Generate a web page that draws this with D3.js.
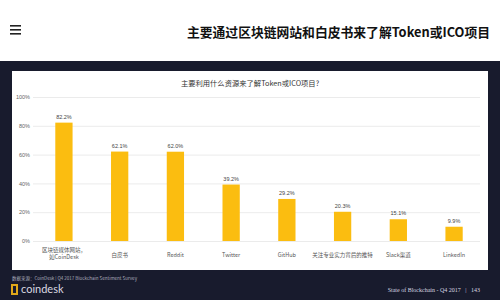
<!DOCTYPE html>
<html>
<head>
<meta charset="utf-8">
<script src="https://cdn.jsdelivr.net/npm/d3@7"></script>
<style>
  body { margin: 0; background: #fff; }
  svg { display: block; font-family: "Noto Sans CJK SC", "Noto Sans", sans-serif; }
</style>
</head>
<body>
<div id="chart"></div>
<script>
// data
const categories = ["区块链媒体网站，\n如CoinDesk", "白皮书", "Reddit", "Twitter", "GitHub",
                    "关注专业实力背后的推特", "Slack渠道", "LinkedIn"];
const values = [82.2, 62.1, 62.0, 39.2, 29.2, 20.3, 15.1, 9.9];
const yTicks = [0, 20, 40, 60, 80, 100];

const pageTitle = "主要通过区块链网站和白皮书来了解Token或ICO项目";
const chartTitle = "主要利用什么资源来了解Token或ICO项目?";
const sourceText = "数据来源：CoinDesk | Q4 2017 Blockchain Sentiment Survey";
const footerText = "State of Blockchain - Q4 2017   |   143";

const W = 500, H = 300;
const navy = "#181b2d", barColor = "#fbbd10";

const svg = d3.select("#chart").append("svg")
    .attr("width", W).attr("height", H);

// header
svg.append("rect").attr("width", W).attr("height", 61).attr("fill", "#fff");
// hamburger icon
[0, 4, 8].forEach(dy => {
  svg.append("rect").attr("x", 10).attr("y", 25 + dy).attr("width", 11).attr("height", 1.6).attr("fill", "#222");
});
svg.append("text")
    .attr("x", 490).attr("y", 37)
    .attr("text-anchor", "end")
    .attr("font-size", 12.8).attr("font-weight", "bold").attr("fill", "#111")
    .text(pageTitle);

// dark panel
svg.append("rect").attr("y", 61).attr("width", W).attr("height", H - 61).attr("fill", navy);

// white card
svg.append("rect").attr("x", 12).attr("y", 71).attr("width", 476).attr("height", 199).attr("fill", "#fff");

svg.append("text")
    .attr("x", 250).attr("y", 86)
    .attr("text-anchor", "middle")
    .attr("font-size", 7.3).attr("fill", "#333")
    .text(chartTitle);

// plot area
const plotTop = 97, plotBottom = 241;
const x = d3.scaleBand()
    .domain(categories)
    .range([33, 485])
    .paddingInner(0.69)
    .paddingOuter(0.4);
const y = d3.scaleLinear()
    .domain([0, 100])
    .range([plotBottom, plotTop]);

// grid lines
const yAxis = svg.append("g")
    .attr("transform", "translate(" + 33 + ",0)")
    .call(d3.axisLeft(y).tickValues(yTicks).tickSize(-447).tickFormat(d => d + "%"));
yAxis.select(".domain").remove();
yAxis.selectAll(".tick line").attr("stroke", "#e6e6e6").attr("stroke-width", 0.8);
yAxis.selectAll(".tick text")
    .attr("x", -3)
    .attr("font-size", 5.5).attr("fill", "#666")
    .attr("font-family", "Liberation Sans, Arial, sans-serif");

// bars
svg.selectAll(".bar")
    .data(values)
    .enter().append("rect")
    .attr("class", "bar")
    .attr("x", (d, i) => x(categories[i]))
    .attr("y", d => y(d))
    .attr("width", x.bandwidth())
    .attr("height", d => y(0) - y(d))
    .attr("fill", barColor);

// value labels
svg.selectAll(".val")
    .data(values)
    .enter().append("text")
    .attr("class", "val")
    .attr("x", (d, i) => x(categories[i]) + x.bandwidth() / 2)
    .attr("y", d => y(d) - 4)
    .attr("text-anchor", "middle")
    .attr("font-size", 5.5).attr("fill", "#444")
    .attr("font-family", "Liberation Sans, Arial, sans-serif")
    .text(d => d.toFixed(1) + "%");

// category labels
svg.selectAll(".cat")
    .data(categories)
    .enter().append("text")
    .attr("class", "cat")
    .attr("x", d => x(d) + x.bandwidth() / 2)
    .attr("y", d => d.includes("\n") ? 252 : 257)
    .attr("text-anchor", "middle")
    .attr("font-size", 5.5).attr("fill", "#555")
    .each(function (d) {
      d.split("\n").forEach((line, i) => {
        d3.select(this).append("tspan")
            .attr("x", x(d) + x.bandwidth() / 2)
            .attr("dy", i === 0 ? 0 : 6.5)
            .text(line);
      });
    });

// footer
svg.append("text")
    .attr("x", 12).attr("y", 280)
    .attr("font-size", 4.5).attr("fill", "#aab")
    .text(sourceText);

svg.append("rect").attr("x", 11).attr("y", 284).attr("width", 7).attr("height", 11).attr("fill", "#e0a81a");
svg.append("rect").attr("x", 13).attr("y", 286).attr("width", 3).attr("height", 7).attr("fill", navy);
svg.append("text")
    .attr("x", 21).attr("y", 293)
    .attr("font-size", 11).attr("fill", "#d8d8e0")
    .attr("font-family", "Lato, sans-serif")
    .text("coindesk");

svg.append("text")
    .attr("x", 480).attr("y", 292)
    .attr("text-anchor", "end")
    .attr("font-size", 6).attr("fill", "#d8d8e0")
    .attr("font-family", "Liberation Serif, serif")
    .attr("xml:space", "preserve")
    .text(footerText);
</script>
</body>
</html>
